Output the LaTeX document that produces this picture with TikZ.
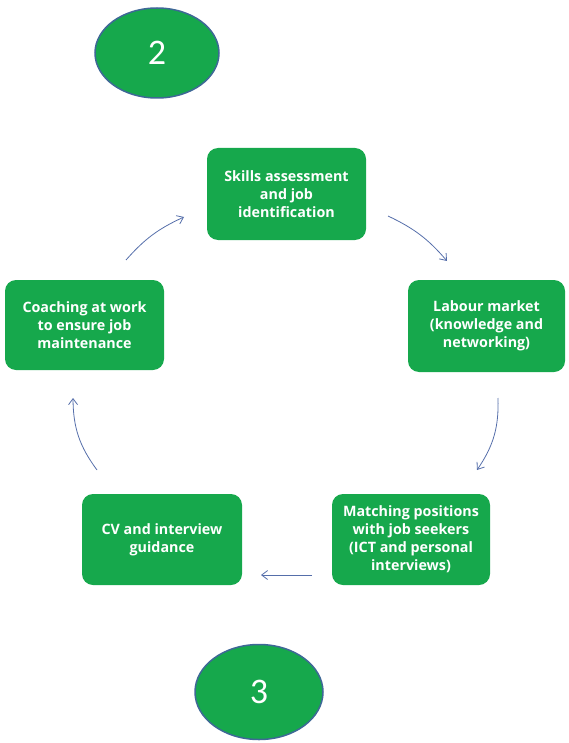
\documentclass[tikz,border=0pt]{standalone}
\usepackage{fontspec}
\setmainfont{Carlito}
\newfontfamily\stepfont{Open Sans}
\usetikzlibrary{arrows.meta,shapes.geometric}
\definecolor{stepgreen}{RGB}{22,168,76}
\definecolor{rimblue}{RGB}{62,104,150}
\definecolor{arrowblue}{RGB}{85,110,170}
\tikzset{
  px/.style={x=1pt,y=-1pt},
  stepbox/.style={draw=none,fill=stepgreen,rounded corners=11pt,text=white,
    font=\stepfont\bfseries\fontsize{14.3}{18}\selectfont,align=center,inner sep=0pt},
  badge/.style={ellipse,draw=rimblue,line width=1.5pt,fill=stepgreen,text=white,
    font=\fontsize{36}{36}\selectfont,inner sep=0pt},
  flow/.style={draw=arrowblue,line width=0.8pt,-{Straight Barb[length=6pt,width=9pt]}}
}
\begin{document}
\begin{tikzpicture}[px]
\useasboundingbox (0,0) rectangle (568,743);
% step markers
\node[badge,minimum width=124pt,minimum height=90pt] (two) at (157,53) {2};
\node[badge,minimum width=128pt,minimum height=95pt] (three) at (259,692) {3};
% process steps
\node[stepbox,minimum width=159pt,minimum height=92pt] (skills) at (286.5,194) {Skills assessment\\and job\\identification};
\node[stepbox,minimum width=157pt,minimum height=92pt] (labour) at (486.5,326) {Labour market\\(knowledge and\\networking)};
\node[stepbox,minimum width=159pt,minimum height=90pt] (coach) at (84.5,325) {Coaching at work\\to ensure job\\maintenance};
\node[stepbox,minimum width=160pt,minimum height=91pt] (cv) at (162,539.5) {CV and interview\\guidance};
\node[stepbox,minimum width=158pt,minimum height=91pt] (match) at (411,539.5) {Matching positions\\with job seekers\\(ICT and personal\\interviews)};
% connector ends
\coordinate (a1) at (388,216);
\coordinate (a2) at (447,261);
\coordinate (b1) at (498,398);
\coordinate (b2) at (477,470);
\coordinate (c1) at (312,575);
\coordinate (c2) at (261,575);
\coordinate (d1) at (97,470);
\coordinate (d2) at (73,398);
\coordinate (e1) at (126,260);
\coordinate (e2) at (184,217);
% cycle arrows
\draw[flow] (a1) to[bend left=12] (a2);
\draw[flow] (b1) to[bend left=18] (b2);
\draw[flow] (c1) -- (c2);
\draw[flow] (d1) to[bend left=18] (d2);
\draw[flow] (e1) to[bend left=12] (e2);
\end{tikzpicture}
\end{document}
